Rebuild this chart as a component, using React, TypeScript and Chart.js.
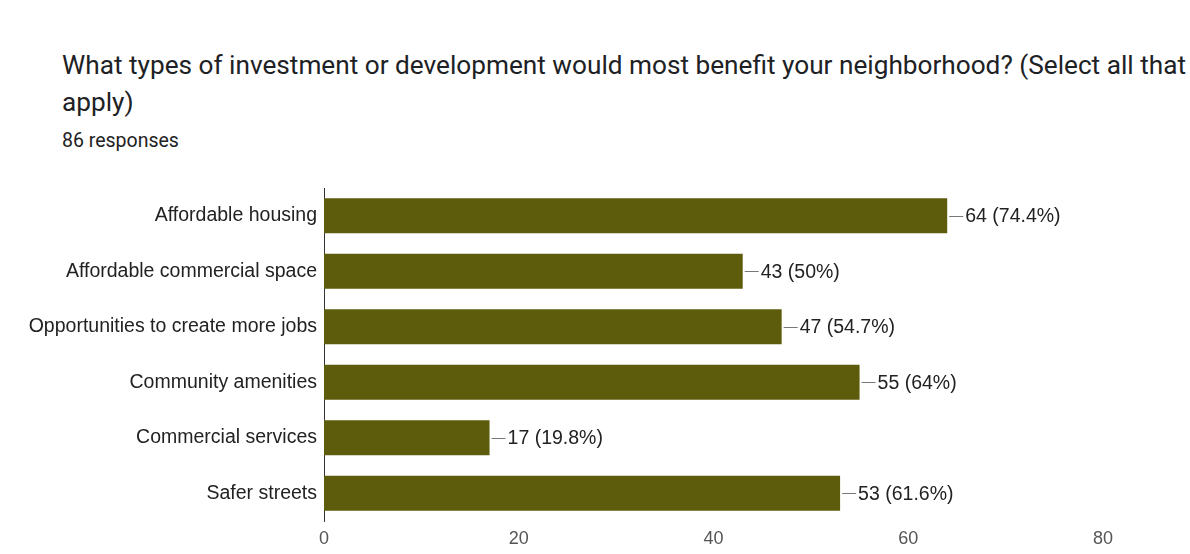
import React, { useEffect, useRef } from "react";
import { Chart, registerables } from "chart.js";

Chart.register(...registerables);

const TITLE_LINE_1 = "What types of investment or development would most benefit your neighborhood? (Select all that";
const TITLE_LINE_2 = "apply)";
const SUBTITLE = "86 responses";

const categories = [
  "Affordable housing",
  "Affordable commercial space",
  "Opportunities to create more jobs",
  "Community amenities",
  "Commercial services",
  "Safer streets",
];
const counts = [64, 43, 47, 55, 17, 53];
const percents = ["74.4%", "50%", "54.7%", "64%", "19.8%", "61.6%"];
const xTicks = [0, 20, 40, 60, 80];

const BAR_COLOR = "#5c5c0c";
const FONT = "'Liberation Sans', Arial, sans-serif";

const valueLabelPlugin = {
  id: "valueLabels",
  afterDatasetsDraw(chart: any) {
    const ctx = chart.ctx;
    const meta = chart.getDatasetMeta(0);
    ctx.save();
    meta.data.forEach((bar: any, i: number) => {
      const x = bar.x;
      const y = bar.y;
      ctx.strokeStyle = "#777";
      ctx.lineWidth = 1;
      ctx.beginPath();
      ctx.moveTo(x + 2, Math.round(y) + 0.5);
      ctx.lineTo(x + 16, Math.round(y) + 0.5);
      ctx.stroke();
      ctx.fillStyle = "#222";
      ctx.font = "19.5px " + FONT;
      ctx.textBaseline = "middle";
      ctx.textAlign = "left";
      ctx.fillText(`${counts[i]} (${percents[i]})`, x + 18, y + 1);
    });
    ctx.restore();
  },
};

export default function App() {
  const canvasRef = useRef<HTMLCanvasElement | null>(null);

  useEffect(() => {
    if (!canvasRef.current) return;
    const chart = new Chart(canvasRef.current, {
      type: "bar",
      data: {
        labels: categories,
        datasets: [
          {
            data: counts,
            backgroundColor: BAR_COLOR,
            borderWidth: 0,
            barPercentage: 0.63,
            categoryPercentage: 1,
          },
        ],
      },
      options: {
        indexAxis: "y",
        animation: false,
        responsive: false,
        maintainAspectRatio: false,
        layout: { padding: { left: 0, top: 188, right: 87, bottom: 0 } },
        plugins: {
          legend: { display: false },
          tooltip: { enabled: false },
          title: { display: false },
        },
        scales: {
          x: {
            min: 0,
            max: 80,
            afterBuildTicks(scale: any) {
              scale.ticks = xTicks.map((v) => ({ value: v }));
            },
            afterFit(scale: any) {
              scale.height = 33;
            },
            grid: { display: false, drawTicks: false },
            border: { display: false },
            ticks: {
              padding: 7,
              color: "#555",
              font: { size: 18, family: FONT },
            },
          },
          y: {
            afterFit(scale: any) {
              scale.width = 324;
            },
            grid: { display: false, drawTicks: false },
            border: { display: true, color: "#333", width: 1 },
            ticks: {
              padding: 7,
              color: "#222",
              font: { size: 19.5, family: FONT },
            },
          },
        },
      },
      plugins: [valueLabelPlugin],
    });
    return () => chart.destroy();
  }, []);

  return (
    <div style={{ position: "fixed", left: 0, top: 0, width: 1190, height: 554, background: "#fff", overflow: "hidden" }}>
      <div
        style={{
          position: "absolute",
          left: 62,
          top: 47,
          fontFamily: "Roboto, 'Noto Sans', sans-serif",
          fontSize: 26.2,
          lineHeight: "37px",
          color: "#202124",
          whiteSpace: "nowrap",
        }}
      >
        {TITLE_LINE_1}
        <br />
        {TITLE_LINE_2}
      </div>
      <div
        style={{
          position: "absolute",
          left: 62,
          top: 129,
          fontFamily: "Roboto, 'Noto Sans', sans-serif",
          fontSize: 19.5,
          color: "#222",
          whiteSpace: "nowrap",
        }}
      >
        {SUBTITLE}
      </div>
      <canvas ref={canvasRef} width={1190} height={554} style={{ position: "absolute", left: 0, top: 0 }} />
    </div>
  );
}
